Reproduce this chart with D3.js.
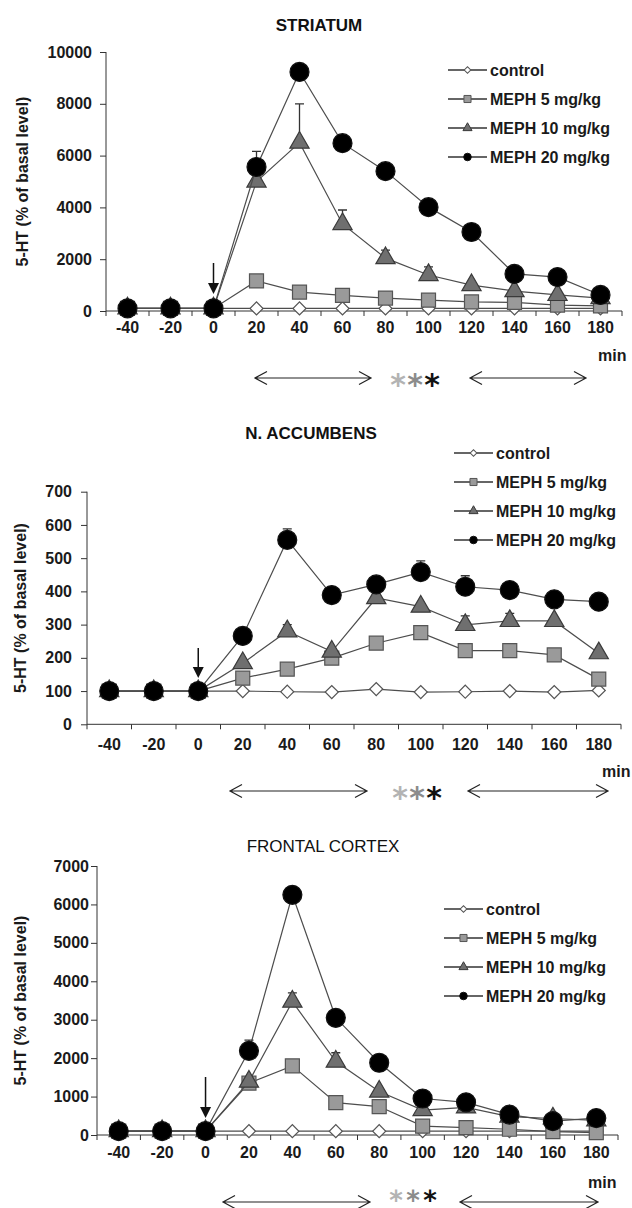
<!DOCTYPE html>
<html>
<head>
<meta charset="utf-8">
<script src="https://cdn.jsdelivr.net/npm/d3@7"></script>
<style>
  body { margin: 0; background: #fff; }
  svg { display: block; font-family: "Liberation Sans", Arial, sans-serif; }
</style>
</head>
<body>
<div id="chart"></div>
<script>
// time points (min) and series names
var times = [-40, -20, 0, 20, 40, 60, 80, 100, 120, 140, 160, 180];
var seriesNames = ["control", "MEPH 5 mg/kg", "MEPH 10 mg/kg", "MEPH 20 mg/kg"];

// STRIATUM
var striatumControl = [100, 100, 100, 100, 100, 100, 100, 100, 100, 100, 100, 100];
var striatum5 = [100, 100, 100, 1160, 730, 600, 500, 420, 350, 330, 230, 200];
var striatum10 = [100, 100, 100, 5000, 6500, 3360, 2040, 1390, 1000, 770, 620, 500];
var striatum20 = [100, 100, 100, 5560, 9230, 6480, 5400, 4010, 3050, 1430, 1310, 620];
var striatum10Sem = [0, 0, 0, 0, 1500, 540, 310, 310, 0, 0, 0, 0];
var striatum20Sem = [0, 0, 0, 600, 0, 0, 0, 0, 0, 0, 0, 0];
var striatumTicks = [0, 2000, 4000, 6000, 8000, 10000];

// N. ACCUMBENS
var accumbensControl = [100, 100, 100, 100, 98, 97, 106, 97, 98, 100, 97, 102];
var accumbens5 = [100, 100, 100, 139, 166, 199, 244, 276, 222, 222, 209, 136];
var accumbens10 = [100, 100, 100, 184, 280, 219, 380, 354, 299, 311, 311, 214];
var accumbens20 = [100, 100, 100, 266, 555, 389, 421, 458, 414, 404, 376, 369];
var accumbens10Sem = [0, 0, 0, 0, 20, 0, 0, 0, 27, 23, 0, 0];
var accumbens20Sem = [0, 0, 0, 0, 33, 0, 0, 34, 33, 0, 0, 0];
var accumbensTicks = [0, 100, 200, 300, 400, 500, 600, 700];

// FRONTAL CORTEX
var cortexControl = [100, 100, 100, 100, 100, 100, 100, 100, 100, 100, 100, 100];
var cortex5 = [100, 100, 100, 1350, 1800, 840, 740, 230, 190, 150, 90, 60];
var cortex10 = [100, 100, 100, 1390, 3470, 1910, 1130, 650, 720, 480, 430, 380];
var cortex20 = [100, 100, 100, 2190, 6250, 3050, 1880, 950, 850, 530, 360, 440];
var cortex10Sem = [0, 0, 0, 0, 230, 230, 0, 0, 0, 0, 0, 0];
var cortex20Sem = [0, 0, 0, 280, 0, 0, 0, 0, 0, 0, 0, 0];
var cortexTicks = [0, 1000, 2000, 3000, 4000, 5000, 6000, 7000];

var zeroSem = [0, 0, 0, 0, 0, 0, 0, 0, 0, 0, 0, 0];

var starColors = ["#b3b3b3", "#8c8c8c", "#111"];

var panels = [
    {title: "STRIATUM", bold: true, tx: 319, ty: 31,
     left: 106, right: 622, top: 52, bottom: 311, ticks: striatumTicks, yPad: 8, xPad: 11,
     ylx: 22, values: [striatumControl, striatum5, striatum10, striatum20],
     sems: [zeroSem, zeroSem, striatum10Sem, striatum20Sem],
     legX: 448, legY: 70, arrowTop: 263, arrowBot: 294,
     minX: 598, minY: 361, rowY: 378, la: [255, 371], ra: [470, 586], starX: 390, low: false},
    {title: "N. ACCUMBENS", bold: true, tx: 311, ty: 439,
     left: 87, right: 621, top: 491.7, bottom: 724.3, ticks: accumbensTicks, yPad: 9, xPad: 14,
     ylx: 20, values: [accumbensControl, accumbens5, accumbens10, accumbens20],
     sems: [zeroSem, zeroSem, accumbens10Sem, accumbens20Sem],
     legX: 454, legY: 453, arrowTop: 648, arrowBot: 678,
     minX: 602, minY: 777, rowY: 791, la: [230, 367], ra: [468, 608], starX: 392, low: false},
    {title: "FRONTAL CORTEX", bold: false, tx: 323, ty: 852,
     left: 97, right: 618, top: 866, bottom: 1135, ticks: cortexTicks, yPad: 2, xPad: 12,
     ylx: 20, values: [cortexControl, cortex5, cortex10, cortex20],
     sems: [zeroSem, zeroSem, cortex10Sem, cortex20Sem],
     legX: 444, legY: 909, arrowTop: 1077, arrowBot: 1118,
     minX: 588, minY: 1188, rowY: 1202, la: [223, 370], ra: [460, 598], starX: 388, low: true}
];

// marker styles per series: control, 5, 10, 20
var markerStyle = [
    {type: d3.symbolSquare, size: 85, small: 22, rot: 45, fill: "#fff", stroke: "#555"},
    {type: d3.symbolSquare, size: 196, small: 50, rot: 0, fill: "#9a9a9a", stroke: "#555"},
    {type: d3.symbolTriangle, size: 160, small: 36, rot: 0, fill: "#6f6f6f", stroke: "#3a3a3a"},
    {type: d3.symbolCircle, size: 283, small: 45, rot: 0, fill: "#000", stroke: "#111"}
];

var svg = d3.select("#chart").append("svg")
    .attr("width", 632)
    .attr("height", 1208);

function DrawPanel(p) {
    var g = svg.append("g");

    var x = d3.scaleBand().domain(times).range([p.left, p.right]);
    var cx = function(t) { return x(t) + x.bandwidth() / 2; };
    var y = d3.scaleLinear().domain([0, p.ticks[p.ticks.length - 1]]).range([p.bottom, p.top]);

    // title
    g.append("text")
        .attr("x", p.tx).attr("y", p.ty)
        .attr("text-anchor", "middle")
        .style("font-size", "17px")
        .style("font-weight", p.bold ? "bold" : "normal")
        .attr("fill", "#111")
        .text(p.title);

    // y axis
    var yAxis = d3.axisLeft(y).tickValues(p.ticks).tickSize(6).tickPadding(p.yPad).tickFormat(d3.format("d"));
    var ya = g.append("g")
        .attr("transform", "translate(" + p.left + ",0)")
        .call(yAxis);
    ya.selectAll("text").style("font-size", "16px").style("font-weight", "bold").attr("fill", "#1a1a1a");
    ya.selectAll("line, path").attr("stroke", "#333");
    ya.select(".domain").attr("d", "M0," + p.bottom + "V" + p.top);

    // x axis, labels centred, ticks on category edges
    var xAxis = d3.axisBottom(x).tickSize(0).tickPadding(p.xPad);
    var xa = g.append("g")
        .attr("transform", "translate(0," + p.bottom + ")")
        .call(xAxis);
    xa.selectAll("text").style("font-size", "16px").style("font-weight", "bold").attr("fill", "#1a1a1a");
    xa.select(".domain").attr("stroke", "#333").attr("d", "M" + p.left + ",0H" + p.right);
    var edges = times.map(function(t) { return x(t); }).concat([p.right]);
    g.selectAll(".edge")
        .data(edges)
        .enter()
        .append("line")
        .attr("x1", function(d) { return d; })
        .attr("x2", function(d) { return d; })
        .attr("y1", p.bottom)
        .attr("y2", p.bottom + 5)
        .attr("stroke", "#333");

    // y axis label
    g.append("text")
        .attr("transform", "translate(" + p.ylx + "," + ((p.top + p.bottom) / 2) + ") rotate(-90)")
        .attr("text-anchor", "middle")
        .attr("dy", "0.35em")
        .style("font-size", "16px")
        .style("font-weight", "bold")
        .attr("fill", "#1a1a1a")
        .text("5-HT (% of basal level)");

    // injection arrow at t=0
    g.append("line")
        .attr("x1", cx(0)).attr("x2", cx(0))
        .attr("y1", p.arrowTop).attr("y2", p.arrowBot - 8)
        .attr("stroke", "#111").attr("stroke-width", 1.5);
    g.append("path")
        .attr("d", "M" + (cx(0) - 5.5) + "," + (p.arrowBot - 11) + "L" + (cx(0) + 5.5) + "," + (p.arrowBot - 11) + "L" + cx(0) + "," + p.arrowBot + "Z")
        .attr("fill", "#111");

    var line = d3.line()
        .x(function(d, i) { return cx(times[i]); })
        .y(function(d) { return y(d); });

    // lines first, then error bars, then markers, series by series
    p.values.forEach(function(vals, s) {
        var st = markerStyle[s];
        var sg = g.append("g");
        sg.append("path")
            .datum(vals)
            .attr("d", line)
            .attr("fill", "none")
            .attr("stroke", "#4d4d4d")
            .attr("stroke-width", 1.2);

        var bars = vals.map(function(v, i) { return {t: times[i], v: v, e: p.sems[s][i]}; })
            .filter(function(d) { return d.e > 0; });
        sg.selectAll(".eb")
            .data(bars)
            .enter()
            .append("path")
            .attr("d", function(d) {
                var xx = cx(d.t), y1 = y(d.v), y2 = y(d.v + d.e);
                return "M" + xx + "," + y1 + "V" + y2 + "M" + (xx - 4.5) + "," + y2 + "H" + (xx + 4.5);
            })
            .attr("fill", "none")
            .attr("stroke", "#333")
            .attr("stroke-width", 1.3);

        sg.selectAll(".mk")
            .data(vals)
            .enter()
            .append("path")
            .attr("d", d3.symbol().type(st.type).size(st.size))
            .attr("transform", function(d, i) {
                return "translate(" + cx(times[i]) + "," + y(d) + ") rotate(" + st.rot + ")";
            })
            .attr("fill", st.fill)
            .attr("stroke", st.stroke)
            .attr("stroke-width", 1.2);
    });

    // legend
    seriesNames.forEach(function(name, s) {
        var st = markerStyle[s];
        var ly = p.legY + s * 29;
        g.append("line")
            .attr("x1", p.legX).attr("x2", p.legX + 39)
            .attr("y1", ly).attr("y2", ly)
            .attr("stroke", "#333").attr("stroke-width", 1.3);
        g.append("path")
            .attr("d", d3.symbol().type(st.type).size(st.small))
            .attr("transform", "translate(" + (p.legX + 19.5) + "," + ly + ") rotate(" + st.rot + ")")
            .attr("fill", st.fill)
            .attr("stroke", st.stroke)
            .attr("stroke-width", 1);
        g.append("text")
            .attr("x", p.legX + 42).attr("y", ly)
            .attr("dy", "0.35em")
            .style("font-size", "16px")
            .style("font-weight", "bold")
            .attr("fill", "#1a1a1a")
            .text(name);
    });

    // "min" label and significance arrows
    g.append("text")
        .attr("x", p.minX).attr("y", p.minY)
        .style("font-size", "16px")
        .style("font-weight", "bold")
        .attr("fill", "#1a1a1a")
        .text("min");

    [p.la, p.ra].forEach(function(a) {
        var yy = p.rowY;
        g.append("path")
            .attr("d", "M" + a[0] + "," + yy + "H" + a[1] +
                "M" + (a[0] + 12) + "," + (yy - 6.5) + "L" + a[0] + "," + yy + "L" + (a[0] + 12) + "," + (yy + 6.5) +
                "M" + (a[1] - 12) + "," + (yy - 6.5) + "L" + a[1] + "," + yy + "L" + (a[1] - 12) + "," + (yy + 6.5))
            .attr("fill", "none")
            .attr("stroke", "#222")
            .attr("stroke-width", 1.2);
    });

    // the bottom row sits on the page edge, so it uses the low asterisk glyph
    starColors.forEach(function(c, k) {
        g.append("text")
            .attr("x", p.starX + 8 + k * 17)
            .attr("y", p.low ? p.rowY : p.rowY + 17)
            .attr("text-anchor", "middle")
            .style("font-family", "'DejaVu Sans', sans-serif")
            .style("font-size", p.low ? "26px" : "30px")
            .style("font-weight", "bold")
            .attr("fill", c)
            .text(p.low ? "\u204E" : "*");
    });
}

panels.forEach(DrawPanel);
</script>
</body>
</html>
